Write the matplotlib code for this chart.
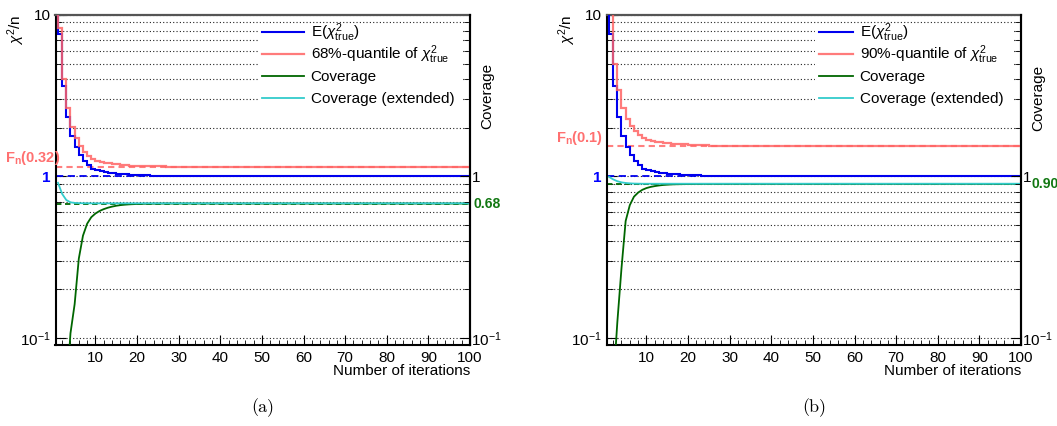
import numpy as np
import matplotlib.pyplot as plt
from matplotlib.legend import Legend
from matplotlib.patches import Rectangle
from matplotlib.ticker import FixedLocator, LogLocator, MultipleLocator, NullFormatter

plt.rcParams["font.family"] = ["Liberation Sans", "DejaVu Sans"]
plt.rcParams["mathtext.fontset"] = "custom"
plt.rcParams["mathtext.rm"] = "Liberation Sans"
plt.rcParams["mathtext.it"] = "Liberation Sans:italic"
plt.rcParams["mathtext.bf"] = "Liberation Sans:bold"

iterations = np.arange(1, 101)
bin_edges = np.arange(0, 101)

# E(chi2_true / n) per iteration, identical for both quantiles
mean_chi2 = [10.5, 7.65, 3.61, 2.33, 1.79, 1.53, 1.36, 1.245, 1.17, 1.115,
             1.09, 1.074, 1.062, 1.052, 1.045, 1.039, 1.034, 1.030, 1.027, 1.024,
             1.021, 1.018, 1.015, 1.012, 1.010, 1.008, 1.006, 1.005, 1.004, 1.003,
             1.002, 1.002, 1.001, 1.001, 1.0] + [1.0] * 65

# 68% case
q68_chi2 = [10.5, 8.28, 4.03, 2.65, 2.02, 1.74, 1.54, 1.41, 1.34, 1.28,
            1.255, 1.235, 1.22, 1.207, 1.196, 1.187, 1.18, 1.174, 1.169, 1.165,
            1.162, 1.16, 1.158, 1.157, 1.156, 1.155, 1.154, 1.153, 1.153, 1.152] + [1.152] * 70
coverage_68 = [0.004, 0.015, 0.045, 0.107, 0.162, 0.31, 0.43, 0.51, 0.56, 0.59,
               0.612, 0.628, 0.641, 0.651, 0.659, 0.665, 0.669, 0.672, 0.674, 0.676,
               0.677, 0.678, 0.678, 0.679, 0.679] + [0.68] * 75
coverage_ext_68 = [0.914, 0.78, 0.715, 0.692, 0.686, 0.684, 0.683, 0.683] + [0.682] * 92
fn_68 = 1.152

# 90% case
q90_chi2 = [10.5, 10.5, 4.99, 3.41, 2.66, 2.28, 2.04, 1.91, 1.81, 1.74,
            1.69, 1.665, 1.645, 1.63, 1.615, 1.605, 1.597, 1.59, 1.584, 1.579,
            1.574, 1.57, 1.566, 1.562, 1.558, 1.555, 1.552, 1.549, 1.546, 1.544,
            1.542, 1.541] + [1.54] * 68
coverage_90 = [0.01, 0.05, 0.125, 0.27, 0.53, 0.665, 0.75, 0.795, 0.827, 0.848,
               0.862, 0.872, 0.88, 0.886, 0.89, 0.893, 0.895, 0.896, 0.897, 0.898,
               0.899, 0.899] + [0.90] * 78
coverage_ext_90 = [0.995, 0.96, 0.935, 0.92, 0.912, 0.907, 0.904, 0.903] + [0.902] * 92
fn_90 = 1.54

BLUE = "#0000ee"
RED = "#ff6464"
GREEN = "#006600"
CYAN = "#33cccc"
PX = 0.72  # points per pixel at 100 dpi
AX_W, AX_H = 414.5, 330.0  # axes size in pixels

fig = plt.figure(figsize=(10.57, 4.26), dpi=100)


def draw_panel(rect, quantile, coverage, coverage_ext, fn_value, fn_text, fn_dx,
               nominal, nominal_text, nominal_dx, qname, caption, cov_top, legend_box, handle_px):
    ax = fig.add_axes(rect)
    ax.set_yscale("log")
    ax.set_xlim(0.4, 100)
    ax.set_ylim(0.0905, 10)

    h_mean = ax.stairs(mean_chi2, bin_edges, baseline=None, color=BLUE, lw=1.5, zorder=3)
    h_q = ax.stairs(quantile, bin_edges, baseline=None, color=RED, lw=1.6, alpha=0.85, zorder=4)
    ax.axhline(1.0, color=BLUE, ls=(0, (4, 2.5)), lw=1.3, zorder=2)
    ax.axhline(fn_value, color="#ff8080", ls=(0, (3, 2)), lw=1.5, zorder=2)
    ax.axhline(nominal, color=GREEN, ls=(0, (3, 2)), lw=1.3, zorder=2)
    h_cov, = ax.plot(iterations, coverage, color=GREEN, lw=1.3, zorder=3)
    h_ext, = ax.plot(iterations, coverage_ext, color=CYAN, lw=1.3, zorder=3)

    # legend: white block hiding the grid, then one row per entry on a fixed pitch
    x0, x1, yb, yt = legend_box
    ax.add_patch(Rectangle((x0, yb), x1 - x0, yt - yb, transform=ax.transAxes,
                           facecolor="white", edgecolor="none", zorder=5))
    labels = [r"E($\chi^{2}_{\mathrm{true}}$)",
              qname + r"-quantile of $\chi^{2}_{\mathrm{true}}$",
              "Coverage", "Coverage (extended)"]
    row_px = [33, 55, 77.3, 99]
    for h, lab, ypx in zip([h_mean, h_q, h_cov, h_ext], labels, row_px):
        leg = Legend(ax, [h], [lab], loc="center left",
                     bbox_to_anchor=(x0 + 4 / AX_W, (345 - ypx) / AX_H),
                     borderaxespad=0, borderpad=0, frameon=False, fontsize=11,
                     handlelength=handle_px / 15.3, handletextpad=0.44)
        leg.set_zorder(6)
        ax.add_artist(leg)

    # y axis: log, inward ticks, dotted grid at every decade subdivision
    ax.yaxis.set_major_locator(FixedLocator([0.1, 1, 10]))
    ax.set_yticklabels([r"$10^{-1}$", "1", "10"])
    ax.yaxis.set_minor_locator(LogLocator(subs=np.arange(2, 10)))
    ax.yaxis.set_minor_formatter(NullFormatter())
    one = ax.get_yticklabels()[1]
    one.set_color("blue")
    one.set_fontweight("bold")
    one.set_fontsize(12)
    ax.grid(True, axis="y", which="both", color="#222222", ls=(0, (1, 2)), lw=0.8)
    ax.set_axisbelow(True)

    ax.set_xticks(range(10, 101, 10))
    ax.xaxis.set_minor_locator(MultipleLocator(2))
    ax.tick_params(axis="both", which="major", direction="in", labelsize=11)
    ax.tick_params(axis="x", which="major", length=7, pad=4)
    ax.tick_params(axis="x", which="minor", direction="in", length=3.5)
    ax.tick_params(axis="y", which="major", length=7, pad=3.5)
    ax.tick_params(axis="y", which="minor", direction="in", length=4)

    for side in ("left", "bottom", "right"):
        ax.spines[side].set_linewidth(1.5)
    ax.spines["top"].set_color("#555555")
    ax.spines["top"].set_linewidth(1.6)

    axr = ax.twinx()
    axr.set_yscale("log")
    axr.set_ylim(0.0905, 10)
    axr.yaxis.set_major_locator(FixedLocator([0.1, 1]))
    axr.set_yticklabels([r"$10^{-1}$", "1"])
    axr.yaxis.set_minor_locator(LogLocator(subs=np.arange(2, 10)))
    axr.yaxis.set_minor_formatter(NullFormatter())
    axr.tick_params(axis="y", which="major", direction="in", length=7, pad=1, labelsize=11)
    axr.tick_params(axis="y", which="minor", direction="in", length=4)
    axr.spines["right"].set_linewidth(1.5)
    for side in ("left", "bottom", "top"):
        axr.spines[side].set_visible(False)

    ax.annotate(fn_text, xy=(0, fn_value), xycoords=("axes fraction", "data"),
                xytext=(fn_dx * PX, 8.5 * PX), textcoords="offset points",
                ha="right", va="center", color="#ff7070", fontweight="bold",
                fontsize=10.5, annotation_clip=False)
    ax.annotate(nominal_text, xy=(1, nominal), xycoords=("axes fraction", "data"),
                xytext=(nominal_dx * PX, 0), textcoords="offset points",
                ha="left", va="center", color="#117711", fontweight="bold",
                fontsize=10, annotation_clip=False)
    ax.annotate(r"$\chi^{2}$/n", xy=(0, 1), xycoords="axes fraction",
                xytext=(-39 * PX, 0), textcoords="offset points",
                rotation=90, ha="center", va="top", fontsize=11)
    ax.annotate("Coverage", xy=(1, cov_top), xycoords="axes fraction",
                xytext=(17.5 * PX, 0), textcoords="offset points",
                rotation=90, ha="center", va="top", fontsize=11)
    ax.annotate("Number of iterations", xy=(1, 0), xycoords="axes fraction",
                xytext=(0, -25.7 * PX), textcoords="offset points",
                ha="right", va="center", fontsize=11)

    fig.text(rect[0] + rect[2] / 2, 1 - 408 / 426, caption, ha="center",
             va="center", fontsize=13, family="cmr10")


draw_panel([55.5 / 1057, 1 - 345 / 426, AX_W / 1057, AX_H / 426],
           q68_chi2, coverage_68, coverage_ext_68, fn_68, r"F$_{\mathbf{n}}$(0.32)", 5,
           0.68, "0.68", 4, "68%", "(a)", 0.8545,
           (0.4885, 0.98, 0.706, 0.97), 42)
draw_panel([606.5 / 1057, 1 - 345 / 426, AX_W / 1057, AX_H / 426],
           q90_chi2, coverage_90, coverage_ext_90, fn_90, r"F$_{\mathbf{n}}$(0.1)", -3.5,
           0.90, "0.90", 10, "90%", "(b)", 0.848,
           (0.503, 0.978, 0.706, 0.97), 34)

fig.savefig("out.png", dpi=100)
